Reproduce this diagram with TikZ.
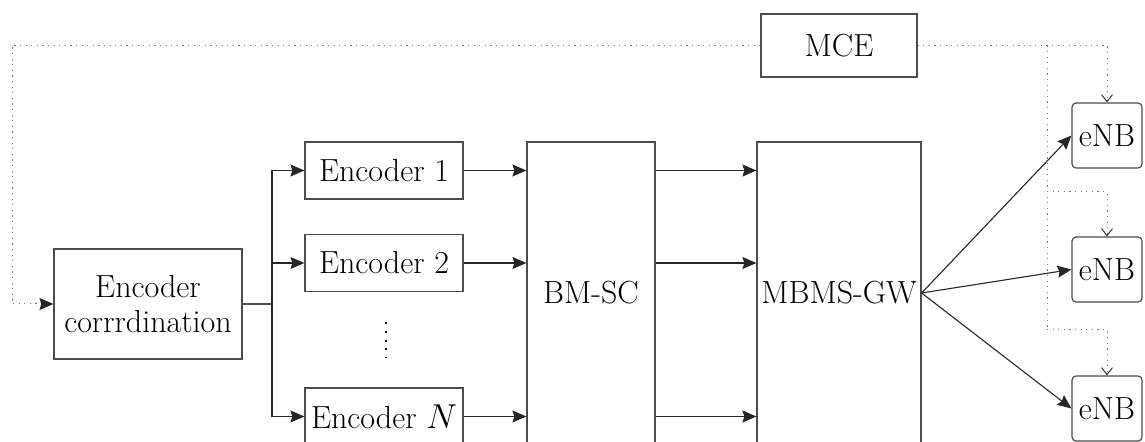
\documentclass[tikz,border=0pt]{standalone}
\usetikzlibrary{arrows.meta}

\begin{document}
\begin{tikzpicture}[x=0.5pt,y=-0.5pt,
    box/.style={draw=black!70, line width=0.6pt, inner sep=0pt, align=center,
        font=\fontsize{16}{17.5}\selectfont},
    link/.style={draw=black!85, line width=0.55pt, -{Stealth[length=7pt,width=6pt,inset=1pt]}},
    sig/.style={draw=black!55, line width=0.5pt, dash pattern=on 0.6pt off 2.2pt},
    sigtip/.style={sig, -{Straight Barb[length=3.5pt,width=5.5pt,black!80]}}]
	\useasboundingbox (0,0) rectangle (1145,442);
	\node[box, minimum width=94pt, minimum height=55pt] (coord) at (148,304) {Encoder\\corrrdination};
	\node[box, minimum width=79pt, minimum height=28.5pt] (enc1) at (384,170.5) {Encoder 1};
	\node[box, minimum width=79pt, minimum height=28.5pt] (enc2) at (384,263) {Encoder 2};
	\node[box, minimum width=79pt, minimum height=28.5pt] (encN) at (384,416.5) {Encoder $N$};
	\node[box, minimum width=64pt, minimum height=151pt] (bmsc) at (591,293) {BM-SC};
	\node[box, minimum width=82pt, minimum height=151pt] (gw) at (839,293) {MBMS-GW};
	\node[box, minimum width=78pt, minimum height=31.5pt] (mce) at (839,45.5) {MCE};
	\node[box, rounded corners=2pt, minimum width=35pt, minimum height=32.5pt] (enb1) at (1107,135.5) {eNB};
	\node[box, rounded corners=2pt, minimum width=35pt, minimum height=32.5pt] (enb2) at (1107,269.5) {eNB};
	\node[box, rounded corners=2pt, minimum width=35pt, minimum height=32.5pt] (enb3) at (1107,408.5) {eNB};
	% encoder fan-out
	\coordinate (split) at (272,304);
	\draw[draw=black!70, line width=0.55pt] (coord.east) -- (split);
	\draw[link] (split) |- (enc1.west);
	\draw[link] (split) |- (enc2.west);
	\draw[link] (split) |- (encN.west);
	\draw[line width=1pt, dash pattern=on 1pt off 3.4pt] (386,322) -- (386,358);
	% encoders to BM-SC to MBMS-GW
	\draw[link] (enc1.east) -- (enc1.east -| bmsc.west);
	\draw[link] (enc2.east) -- (enc2.east -| bmsc.west);
	\draw[link] (encN.east) -- (encN.east -| bmsc.west);
	\draw[link] (bmsc.east |- enc1) -- (gw.west |- enc1);
	\draw[link] (bmsc.east |- enc2) -- (gw.west |- enc2);
	\draw[link] (bmsc.east |- encN) -- (gw.west |- encN);
	% MBMS-GW to eNBs
	\draw[link] (gw.east) -- (enb1.west);
	\draw[link] (gw.east) -- (enb2.west);
	\draw[link] (gw.east) -- (enb3.west);
	% MCE control
	\coordinate (corner) at (12,45.5);
	\draw[sig, -{Stealth[length=7pt,width=6pt,inset=1pt,black!85]}] (mce.west) -- (corner) |- (coord.west);
	\coordinate (br1) at (1047,45.5);
	\coordinate (br2) at (1047,192);
	\coordinate (br3) at (1047,330);
	\draw[sigtip] (mce.east) -| (enb1.north);
	\draw[sig] (br1) -- (br3);
	\draw[sigtip] (br2) -| (enb2.north);
	\draw[sigtip] (br3) -| (enb3.north);
\end{tikzpicture}
\end{document}
